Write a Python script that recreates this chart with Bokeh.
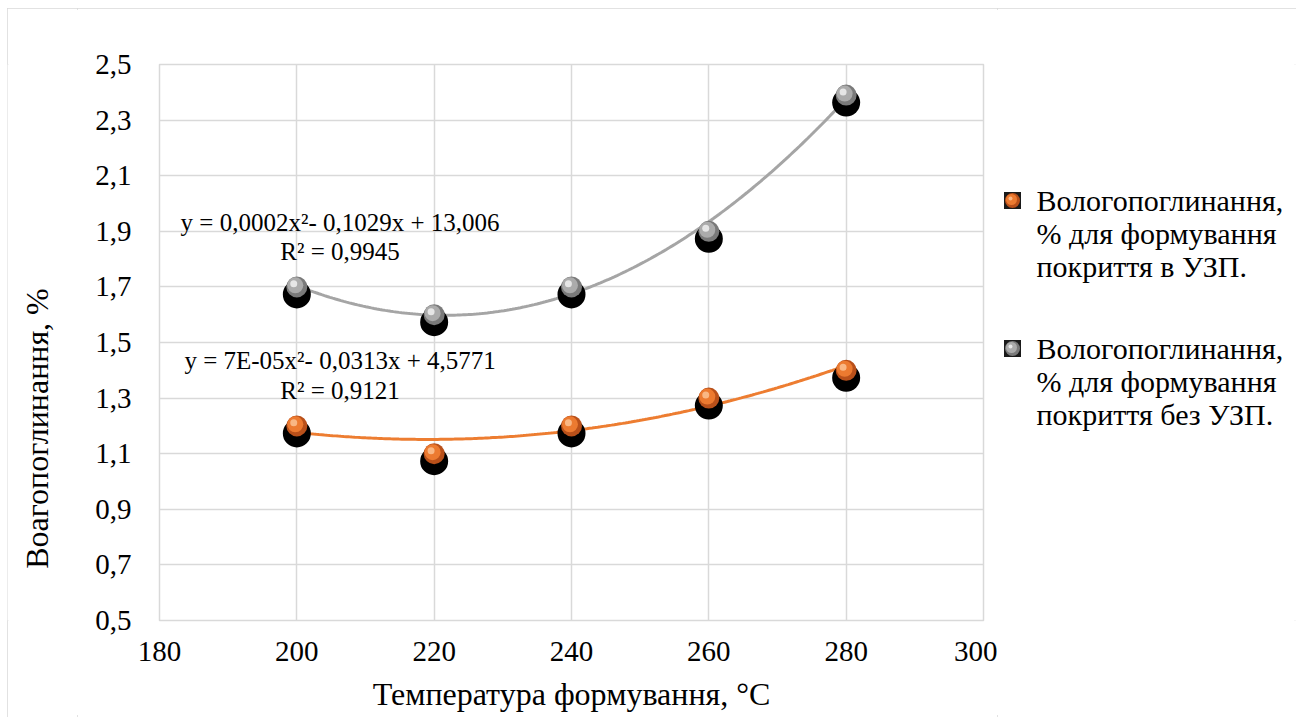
import numpy as np
from bokeh.plotting import figure
from bokeh.layouts import row
from bokeh.models import Label, FixedTicker, CustomJSTickFormatter
from bokeh.embed import file_html
from bokeh.resources import INLINE

# ---- data ----
temps = [200, 220, 240, 260, 280]
with_uzp = [1.2, 1.1, 1.2, 1.3, 1.4]          # в УЗП (orange)
without_uzp = [1.7, 1.6, 1.7, 1.9, 2.39]      # без УЗП (grey)
x_ticks = [180, 200, 220, 240, 260, 280, 300]
y_ticks = [0.5, 0.7, 0.9, 1.1, 1.3, 1.5, 1.7, 1.9, 2.1, 2.3, 2.5]
legend_with = ["Вологопоглинання,", "% для формування", "покриття в УЗП."]
legend_without = ["Вологопоглинання,", "% для формування", "покриття без УЗП."]
eq_with = "y = 7E-05x²- 0,0313x + 4,5771"
r2_with = "R² = 0,9121"
eq_without = "y = 0,0002x²- 0,1029x + 13,006"
r2_without = "R² = 0,9945"
x_title = "Температура формування, °C"
y_title = "Воагопоглинання, %"

FONT = "Liberation Serif"
GRID = "#d9d9d9"
ORANGE = ("#b9501a", "#ec7a30", "#f9b784")
GREY = ("#7a7a7a", "#ababab", "#e6e6e6")

H = 709
X0 = 7            # page x of the chart's left edge
FRAME_TOP, FRAME_BOTTOM = 64, 620   # page y of the plotting frame


def blank(width, x_start):
    # frames in a row are aligned with the main chart's frame, so the y range
    # maps directly to page y between the frame's top and bottom
    f = figure(width=width, height=H, x_range=(x_start, x_start + width),
               y_range=(FRAME_BOTTOM, FRAME_TOP),
               output_backend="svg", toolbar_location=None,
               x_axis_location=None, y_axis_location=None,
               min_border_left=0, min_border_right=0, min_border_top=0, min_border_bottom=0)
    f.grid.visible = False
    f.outline_line_color = None
    return f


# ---- left strip with the y-axis title ----
LL = 70
left = blank(LL, X0)
left.add_layout(Label(x=36, y=428, text=y_title, angle=np.pi / 2, text_align="center",
                      text_baseline="middle", text_font=FONT, text_font_size="32px",
                      text_color="black"))

# ---- main chart ----
MW = 920
p = figure(width=MW, height=H, x_range=(180, 300), y_range=(0.5, 2.5),
           output_backend="svg", toolbar_location=None,
           min_border_left=82, min_border_right=14, min_border_top=56, min_border_bottom=97)
p.outline_line_color = GRID
p.outline_line_width = 1.5

p.xaxis.ticker = FixedTicker(ticks=x_ticks)
p.yaxis.ticker = FixedTicker(ticks=y_ticks)
p.yaxis.formatter = CustomJSTickFormatter(code="return tick.toFixed(1).replace('.', ',');")
for ax in (p.xaxis, p.yaxis):
    ax.axis_line_color = None
    ax.major_tick_line_color = None
    ax.minor_tick_line_color = None
    ax.major_tick_out = 0
    ax.major_tick_in = 0
    ax.major_label_text_font = FONT
    ax.major_label_text_font_size = "29px"
    ax.major_label_text_color = "black"
p.xaxis.axis_label = x_title
p.xaxis.axis_label_text_font = FONT
p.xaxis.axis_label_text_font_size = "32px"
p.xaxis.axis_label_text_font_style = "normal"
p.xaxis.axis_label_text_color = "black"
p.xaxis.major_label_standoff = 21
p.xaxis.axis_label_standoff = 12
p.yaxis.major_label_standoff = 28

p.xgrid.grid_line_color = GRID
p.ygrid.grid_line_color = GRID
p.xgrid.grid_line_width = 1.5
p.ygrid.grid_line_width = 1.5

# ---- trendlines (2nd order polynomial fit of the data) ----
xs = np.linspace(min(temps), max(temps), 200)
for ys, col in ((without_uzp, "#a5a5a5"), (with_uzp, "#ed7d31")):
    c = np.polyfit(temps, ys, 2)
    p.line(xs, np.polyval(c, xs), line_color=col, line_width=3)

# ---- markers: shadow + shaded sphere ----
t = np.array(temps, dtype=float)
dx = 0.45   # highlight shift (x units)
dy = 0.011  # highlight shift (y units)
for ys, (base, mid, hi) in ((without_uzp, GREY), (with_uzp, ORANGE)):
    y = np.array(ys, dtype=float)
    p.scatter(t, y - 0.027, size=28, fill_color="black", line_color=None)
    p.scatter(t, y, size=21, fill_color=base, line_color=None)
    p.scatter(t - dx * 0.5, y + dy * 0.5, size=16, fill_color=mid, line_color=None)
    p.scatter(t - dx, y + dy, size=7, fill_color=hi, line_color=None)

# ---- equation labels ----
for txt, yy in ((eq_without, 1.933), (r2_without, 1.829), (eq_with, 1.434), (r2_with, 1.326)):
    p.add_layout(Label(x=206.3, y=yy, text=txt, text_align="center", text_baseline="middle",
                       text_font=FONT, text_font_size="25px", text_color="black"))

# ---- legend strip ----
LX = X0 + LL + MW
LW = 1296 - LX
q = blank(LW, LX)
line_h = 33
for k, (lines, (base, mid, hi)) in enumerate(((legend_with, ORANGE), (legend_without, GREY))):
    y0 = 200 + k * 148
    for i, s in enumerate(lines):
        q.add_layout(Label(x=1036, y=y0 + i * line_h, text=s, text_align="left",
                           text_baseline="middle", text_font=FONT,
                           text_font_size="30px", text_color="black"))
    q.rect(x=[1012], y=[y0], width=17, height=17, fill_color="#1a1a1a", line_color=None)
    q.scatter(x=[1012], y=[y0], size=15, fill_color=base, line_color=None)
    q.scatter(x=[1011], y=[y0 - 1], size=11, fill_color=mid, line_color=None)
    q.scatter(x=[1010], y=[y0 - 2], size=4, fill_color=hi, line_color=None)

layout = row(left, p, q, spacing=0)
layout.styles = {"margin-left": "7px", "margin-top": "8px",
                 "outline": "2px solid #d9d9d9", "outline-offset": "-2px"}

open("out.html", "w").write(file_html(layout, INLINE))
